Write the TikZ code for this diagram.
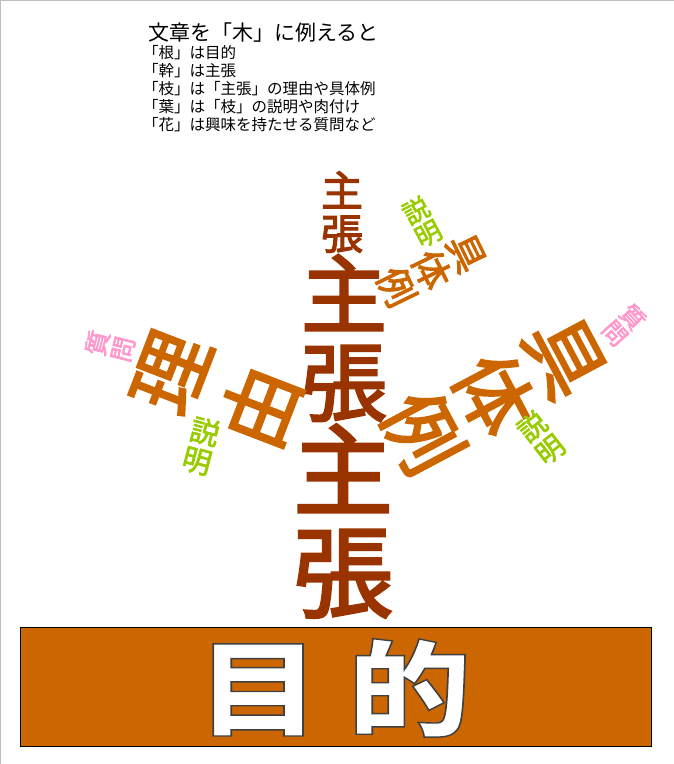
\documentclass[tikz,border=0pt]{standalone}
\usepackage{fontspec}
\setmainfont{Noto Sans CJK JP}
\newfontfamily\treefont[FakeBold=2.5]{Noto Sans CJK JP}
\usepackage{xcolor}
\usepackage{graphicx}
\definecolor{trunkbrown}{HTML}{993300}
\definecolor{branchorange}{HTML}{CC6600}
\definecolor{leafgreen}{HTML}{99CC00}
\definecolor{flowerpink}{HTML}{FF99CC}
\newcommand{\outlinetext}[1]{\textcolor{white}{\special{pdf:literal direct 0.25 G 2 Tr 1.4 w}#1\special{pdf:literal direct 0 Tr}}}

\begin{document}
\begin{tikzpicture}[x=1pt,y=-1pt]
  \tikzstyle{vertical text}=[inner sep=0pt, align=center]
  \tikzstyle{trunk text}=[vertical text, text=trunkbrown]
  \tikzstyle{branch text}=[vertical text, text=branchorange]
  \tikzstyle{leaf text}=[vertical text, text=leafgreen]
  \tikzstyle{flower text}=[vertical text, text=flowerpink]
  \tikzstyle{root box}=[draw=black, fill=branchorange, line width=0.8pt]

  \useasboundingbox (0,0) rectangle (674,764);
  \draw [black!25, line width=1pt] (0.5,764) -- (0.5,0.5) -- (674,0.5);

  % heading
  \node [anchor=west, inner sep=0pt, font=\fontsize{21}{21}\selectfont] (title) at (148,33) {文章を「木」に例えると};
  \node [anchor=north west, align=left, inner sep=0pt, font=\fontsize{15.5}{18}\selectfont] (notes) at (143,45)
    {「根」は目的\\「幹」は主張\\「枝」は「主張」の理由や具体例\\「葉」は「枝」の説明や肉付け\\「花」は興味を持たせる質問など};

  % trunk
  \node [trunk text, font=\treefont\fontsize{100}{102}\selectfont] (trunk low) at (343,521) {主\\張};
  \node [trunk text, font=\treefont\fontsize{86}{88}\selectfont] (trunk mid) at (344,338) {主\\張};
  \node [trunk text, font=\treefont\fontsize{42}{43}\selectfont] (trunk top) at (342,212) {主\\張};

  % branches
  \node [branch text, rotate=69, font=\treefont\fontsize{80}{96}\selectfont] (reason) at (217,390) {理\\由};
  \node [branch text, rotate=-62, font=\treefont\fontsize{78}{81}\selectfont] (example) at (493,395) {具\\体\\例};
  \node [branch text, rotate=-64, font=\treefont\fontsize{38}{39}\selectfont] (example top) at (431,270) {具\\体\\例};

  % leaves and flowers
  \node [leaf text, rotate=28, font=\treefont\fontsize{26}{26}\selectfont] (leaf top) at (422,222) {説\\明};
  \node [leaf text, rotate=38, font=\treefont\fontsize{28}{29}\selectfont] (leaf right) at (541,438) {説\\明};
  \node [leaf text, rotate=-15, font=\treefont\fontsize{29}{30}\selectfont] (leaf left) at (201,446) {説\\明};
  \node [flower text, rotate=-48, font=\treefont\fontsize{24}{24}\selectfont] (flower right) at (624,325) {質\\問};
  \node [flower text, rotate=76, font=\treefont\fontsize{25}{26}\selectfont] (flower left) at (110,346) {質\\問};

  % root
  \draw [root box] (20,627) rectangle (651,746);
  \node [inner sep=0pt, font=\bfseries\fontsize{104}{104}\selectfont] (root) at (334,688)
    {\scalebox{1.18}[1]{\outlinetext{目\hspace{24pt}的}}};
\end{tikzpicture}
\end{document}
